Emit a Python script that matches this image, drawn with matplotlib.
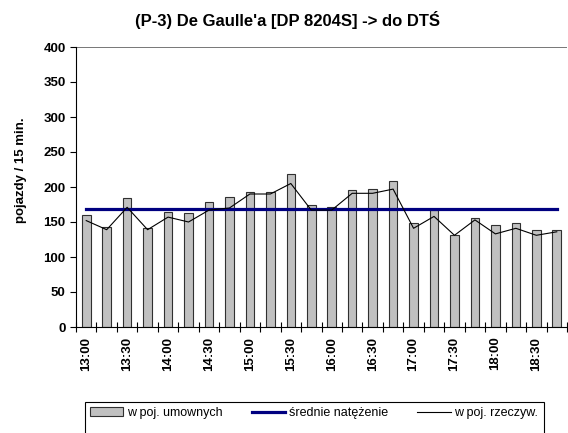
import numpy as np
import matplotlib
matplotlib.use('Agg')
import matplotlib.pyplot as plt
from matplotlib.patches import Rectangle

# Data (15-min intervals)
times = ['13:00', '13:15', '13:30', '13:45', '14:00', '14:15', '14:30', '14:45',
         '15:00', '15:15', '15:30', '15:45', '16:00', '16:15', '16:30', '16:45',
         '17:00', '17:15', '17:30', '17:45', '18:00', '18:15', '18:30', '18:45']
umowne = [160, 143, 184, 141, 164, 163, 178, 186, 193, 193, 218, 175,
          172, 196, 197, 208, 148, 167, 131, 156, 146, 149, 139, 139]
rzeczyw = [152, 139, 171, 139, 157, 150, 167, 170, 190, 190, 205, 167,
           167, 191, 191, 197, 141, 158, 131, 153, 133, 141, 131, 136]
srednie = 169

plt.rcParams['font.family'] = ['Liberation Sans', 'DejaVu Sans']

W, H = 568, 433
fig = plt.figure(figsize=(W / 100, H / 100), dpi=100)
ax = fig.add_axes([76 / W, 106 / H, 491 / W, 280 / H])

x = np.arange(len(times))
bars = ax.bar(x, umowne, width=0.42, color='#c0c0c0', edgecolor='#303030',
              linewidth=0.8, label='w poj. umownych', zorder=2)
avg_line, = ax.plot([x[0], x[-1]], [srednie, srednie], color='#000080',
                    linewidth=2.3, label='średnie natężenie', zorder=3)
real_line, = ax.plot(x, rzeczyw, color='black', linewidth=0.8,
                     label='w poj. rzeczyw.', zorder=4)

ax.set_xlim(-0.5, len(times) - 0.5)
ax.set_ylim(0, 400)
ax.set_yticks(np.arange(0, 401, 50))
ax.axhline(400, color='#606060', linewidth=1.2, zorder=1)

# ticks on category boundaries, labels under every second category
ax.set_xticks(np.arange(-0.5, len(times), 1.0))
ax.set_xticklabels([])
ax.set_xticks(x[::2], minor=True)
ax.set_xticklabels(times[::2], minor=True, rotation=90, fontsize=9.5,
                   fontweight='bold')
ax.tick_params(axis='x', which='major', direction='inout', length=7, width=0.8)
ax.tick_params(axis='x', which='minor', length=0, pad=7)
ax.tick_params(axis='y', direction='out', length=4.5, width=0.8, pad=3)
for lab in ax.get_yticklabels():
    lab.set_fontsize(9.5)
    lab.set_fontweight('bold')

for side in ['top', 'right']:
    ax.spines[side].set_visible(False)
ax.spines['left'].set_linewidth(0.8)
ax.spines['bottom'].set_linewidth(0.8)

ax.set_ylabel('pojazdy / 15 min.', fontsize=9.5, fontweight='bold')
ax.yaxis.set_label_coords(-0.1, 0.56)
fig.text(0.506, 1 - 20 / H, "(P-3) De Gaulle'a [DP 8204S] -> do DTŚ",
         ha='center', va='center', fontsize=12, fontweight='bold')

# legend box runs past the bottom edge of the image, like in the original
fig.patches.append(Rectangle((85 / W, 402 / H * -1 + 1 - 40 / H), 459 / W, 40 / H,
                             transform=fig.transFigure, fill=False,
                             edgecolor='black', linewidth=0.8))
leg = fig.legend(handles=[bars, avg_line, real_line], loc='center',
                 bbox_to_anchor=(314 / W, 1 - 413 / H), ncol=3,
                 fontsize=9, frameon=False, handlelength=2.7,
                 handletextpad=0.3, columnspacing=2.3, borderaxespad=0)

fig.savefig('out.png', dpi=100)
